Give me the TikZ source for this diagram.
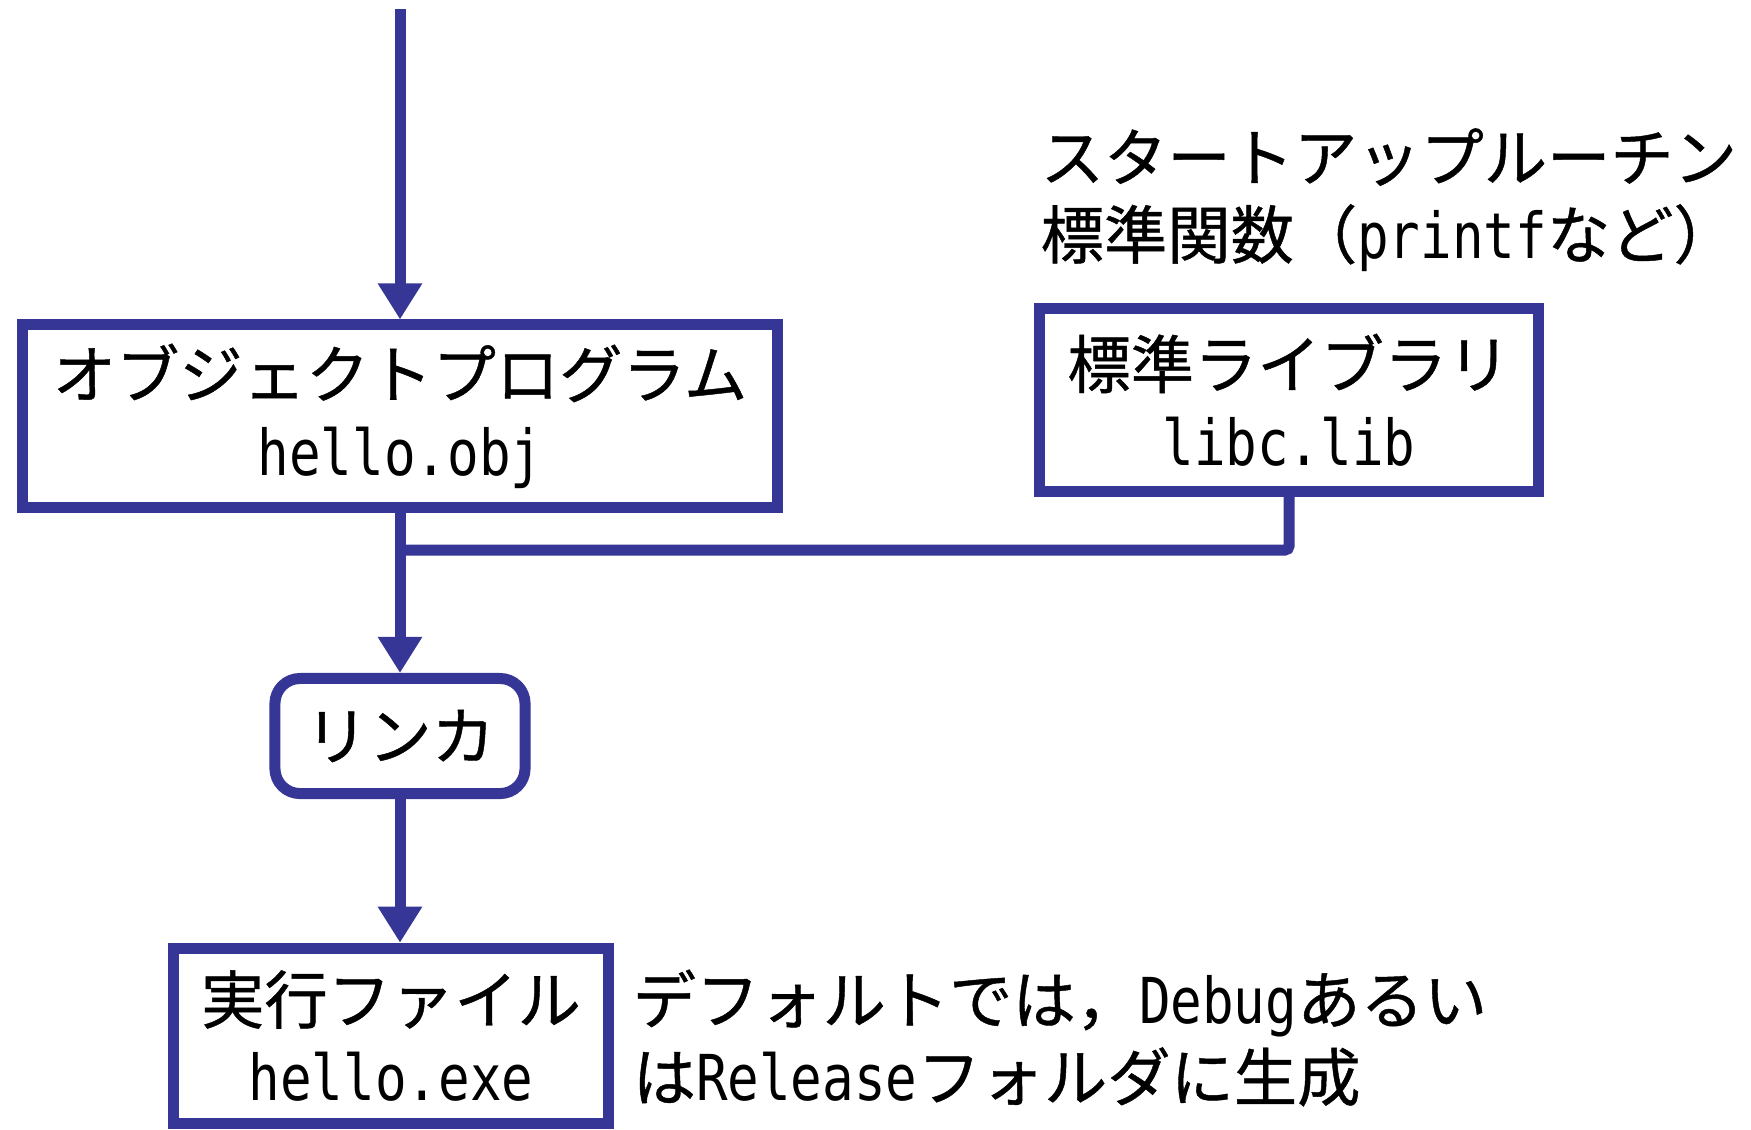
\documentclass[tikz,border=0pt]{standalone}
\usepackage{fontspec}
\setmainfont[FakeBold=0.7]{Noto Sans CJK JP}
\newfontfamily\halfw[FakeStretch=0.83]{DejaVu Sans Mono}
\usetikzlibrary{arrows.meta}
\definecolor{flowblue}{RGB}{54,54,150}
\tikzset{
  box/.style={draw=flowblue, line width=0.11cm, align=center, inner sep=0pt,
    font=\fontsize{18}{22}\selectfont},
  note/.style={align=left, inner sep=0pt, font=\fontsize{18}{22}\selectfont},
  flow/.style={draw=flowblue, line width=0.11cm},
  arrowed/.style={-{Triangle[length=0.36cm,width=0.42cm]}}
}
\begin{document}
\begin{tikzpicture}[x=0.01cm, y=-0.01cm]
      \useasboundingbox (0,0) rectangle (1751,1129);
      \draw
        (400,416) node[box, minimum width=7.55cm, minimum height=1.82cm] (obj)
          {オブジェクトプログラム\\{\halfw hello.obj}}
        (1289,400) node[box, minimum width=4.98cm, minimum height=1.82cm] (lib)
          {標準ライブラリ\\{\halfw libc.lib}}
        (400,736) node[box, rounded corners=0.25cm, minimum width=2.5cm, minimum height=1.15cm] (link)
          {リンカ}
        (391,1036) node[box, minimum width=4.35cm, minimum height=1.755cm] (exe)
          {実行ファイル\\{\halfw hello.exe}}
        (1040,200) node[note, anchor=west] (libnote)
          {スタートアップルーチン\\標準関数（{\halfw printf}など）}
        (632,1038) node[note, anchor=west] (exenote)
          {デフォルトでは，{\halfw Debug}あるい\\は{\halfw Release}フォルダに生成};
      \coordinate (in) at (400,9);
      \coordinate (join) at (400,550);
      \begin{scope}[flow]
        \draw[arrowed] (in) to (obj.north);
        \draw[arrowed] (obj.south) to (link.north);
        \draw[rounded corners=0.04cm] (lib.south) |- (join);
        \draw[arrowed] (link.south) to (link.south |- exe.north);
      \end{scope}
    \end{tikzpicture}
\end{document}
